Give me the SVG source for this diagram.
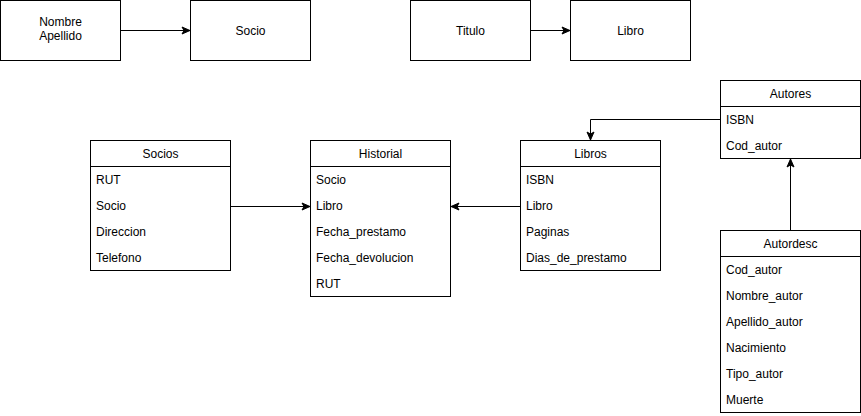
<svg xmlns="http://www.w3.org/2000/svg" width="861" height="416" viewBox="0 0 861 416">
<style>
rect.b{fill:#fff;stroke:#000;stroke-width:1}
line.h{stroke:#000;stroke-width:1}
text{font-family:"Liberation Sans",Arial,sans-serif;font-size:12px;fill:#000}
.c{text-anchor:middle}
.e{fill:none;stroke:#000;stroke-width:1}
</style>
<defs>
<marker id="a" viewBox="0 0 10 10" refX="9" refY="5" markerWidth="10" markerHeight="10" markerUnits="userSpaceOnUse" orient="auto">
<path d="M1,1.5 L9,5 L1,8.5 L3,5 Z" fill="#000" stroke="#000" stroke-width="1"/>
</marker>
</defs>
<rect width="861" height="416" fill="#fff"/>
<g id="n1"><rect class="b" x="0.5" y="0.5" width="120" height="60"/><text class="c" x="60.5" y="26">Nombre</text><text class="c" x="60.5" y="40">Apellido</text></g>
<g id="n2"><rect class="b" x="190.5" y="0.5" width="120" height="60"/><text class="c" x="250.5" y="35">Socio</text></g>
<g id="n3"><rect class="b" x="410.5" y="0.5" width="120" height="60"/><text class="c" x="470.5" y="35">Titulo</text></g>
<g id="n4"><rect class="b" x="570.5" y="0.5" width="120" height="60"/><text class="c" x="630.5" y="35">Libro</text></g>
<g id="socios"><rect class="b" x="90.5" y="140.5" width="140" height="130"/><line class="h" x1="90.5" y1="166.5" x2="230.5" y2="166.5"/>
<text class="c" x="160.5" y="158">Socios</text>
<text x="96" y="184">RUT</text><text x="96" y="210">Socio</text><text x="96" y="236">Direccion</text><text x="96" y="262">Telefono</text></g>
<g id="historial"><rect class="b" x="310.5" y="140.5" width="140" height="156"/><line class="h" x1="310.5" y1="166.5" x2="450.5" y2="166.5"/>
<text class="c" x="380.5" y="158">Historial</text>
<text x="316" y="184">Socio</text><text x="316" y="210">Libro</text><text x="316" y="236">Fecha_prestamo</text><text x="316" y="262">Fecha_devolucion</text><text x="316" y="288">RUT</text></g>
<g id="libros"><rect class="b" x="520.5" y="140.5" width="140" height="130"/><line class="h" x1="520.5" y1="166.5" x2="660.5" y2="166.5"/>
<text class="c" x="590.5" y="158">Libros</text>
<text x="526" y="184">ISBN</text><text x="526" y="210">Libro</text><text x="526" y="236">Paginas</text><text x="526" y="262">Dias_de_prestamo</text></g>
<g id="autores"><rect class="b" x="720.5" y="80.5" width="140" height="78"/><line class="h" x1="720.5" y1="106.5" x2="860.5" y2="106.5"/>
<text class="c" x="790.5" y="98">Autores</text>
<text x="726" y="124">ISBN</text><text x="726" y="150">Cod_autor</text></g>
<g id="autordesc"><rect class="b" x="720.5" y="230.5" width="140" height="182"/><line class="h" x1="720.5" y1="256.5" x2="860.5" y2="256.5"/>
<text class="c" x="790.5" y="248">Autordesc</text>
<text x="726" y="274">Cod_autor</text><text x="726" y="300">Nombre_autor</text><text x="726" y="326">Apellido_autor</text><text x="726" y="352">Nacimiento</text><text x="726" y="378">Tipo_autor</text><text x="726" y="404">Muerte</text></g>
<g id="connectors">
<path class="e" d="M120.5,30.5 H190" marker-end="url(#a)"/>
<path class="e" d="M530.5,30.5 H570" marker-end="url(#a)"/>
<path class="e" d="M230.5,206.5 H310" marker-end="url(#a)"/>
<path class="e" d="M520.5,206.5 H451" marker-end="url(#a)"/>
<path class="e" d="M720.5,119.5 H590.5 V140" marker-end="url(#a)"/>
<path class="e" d="M790.5,230.5 V159" marker-end="url(#a)"/>
</g>
</svg>
